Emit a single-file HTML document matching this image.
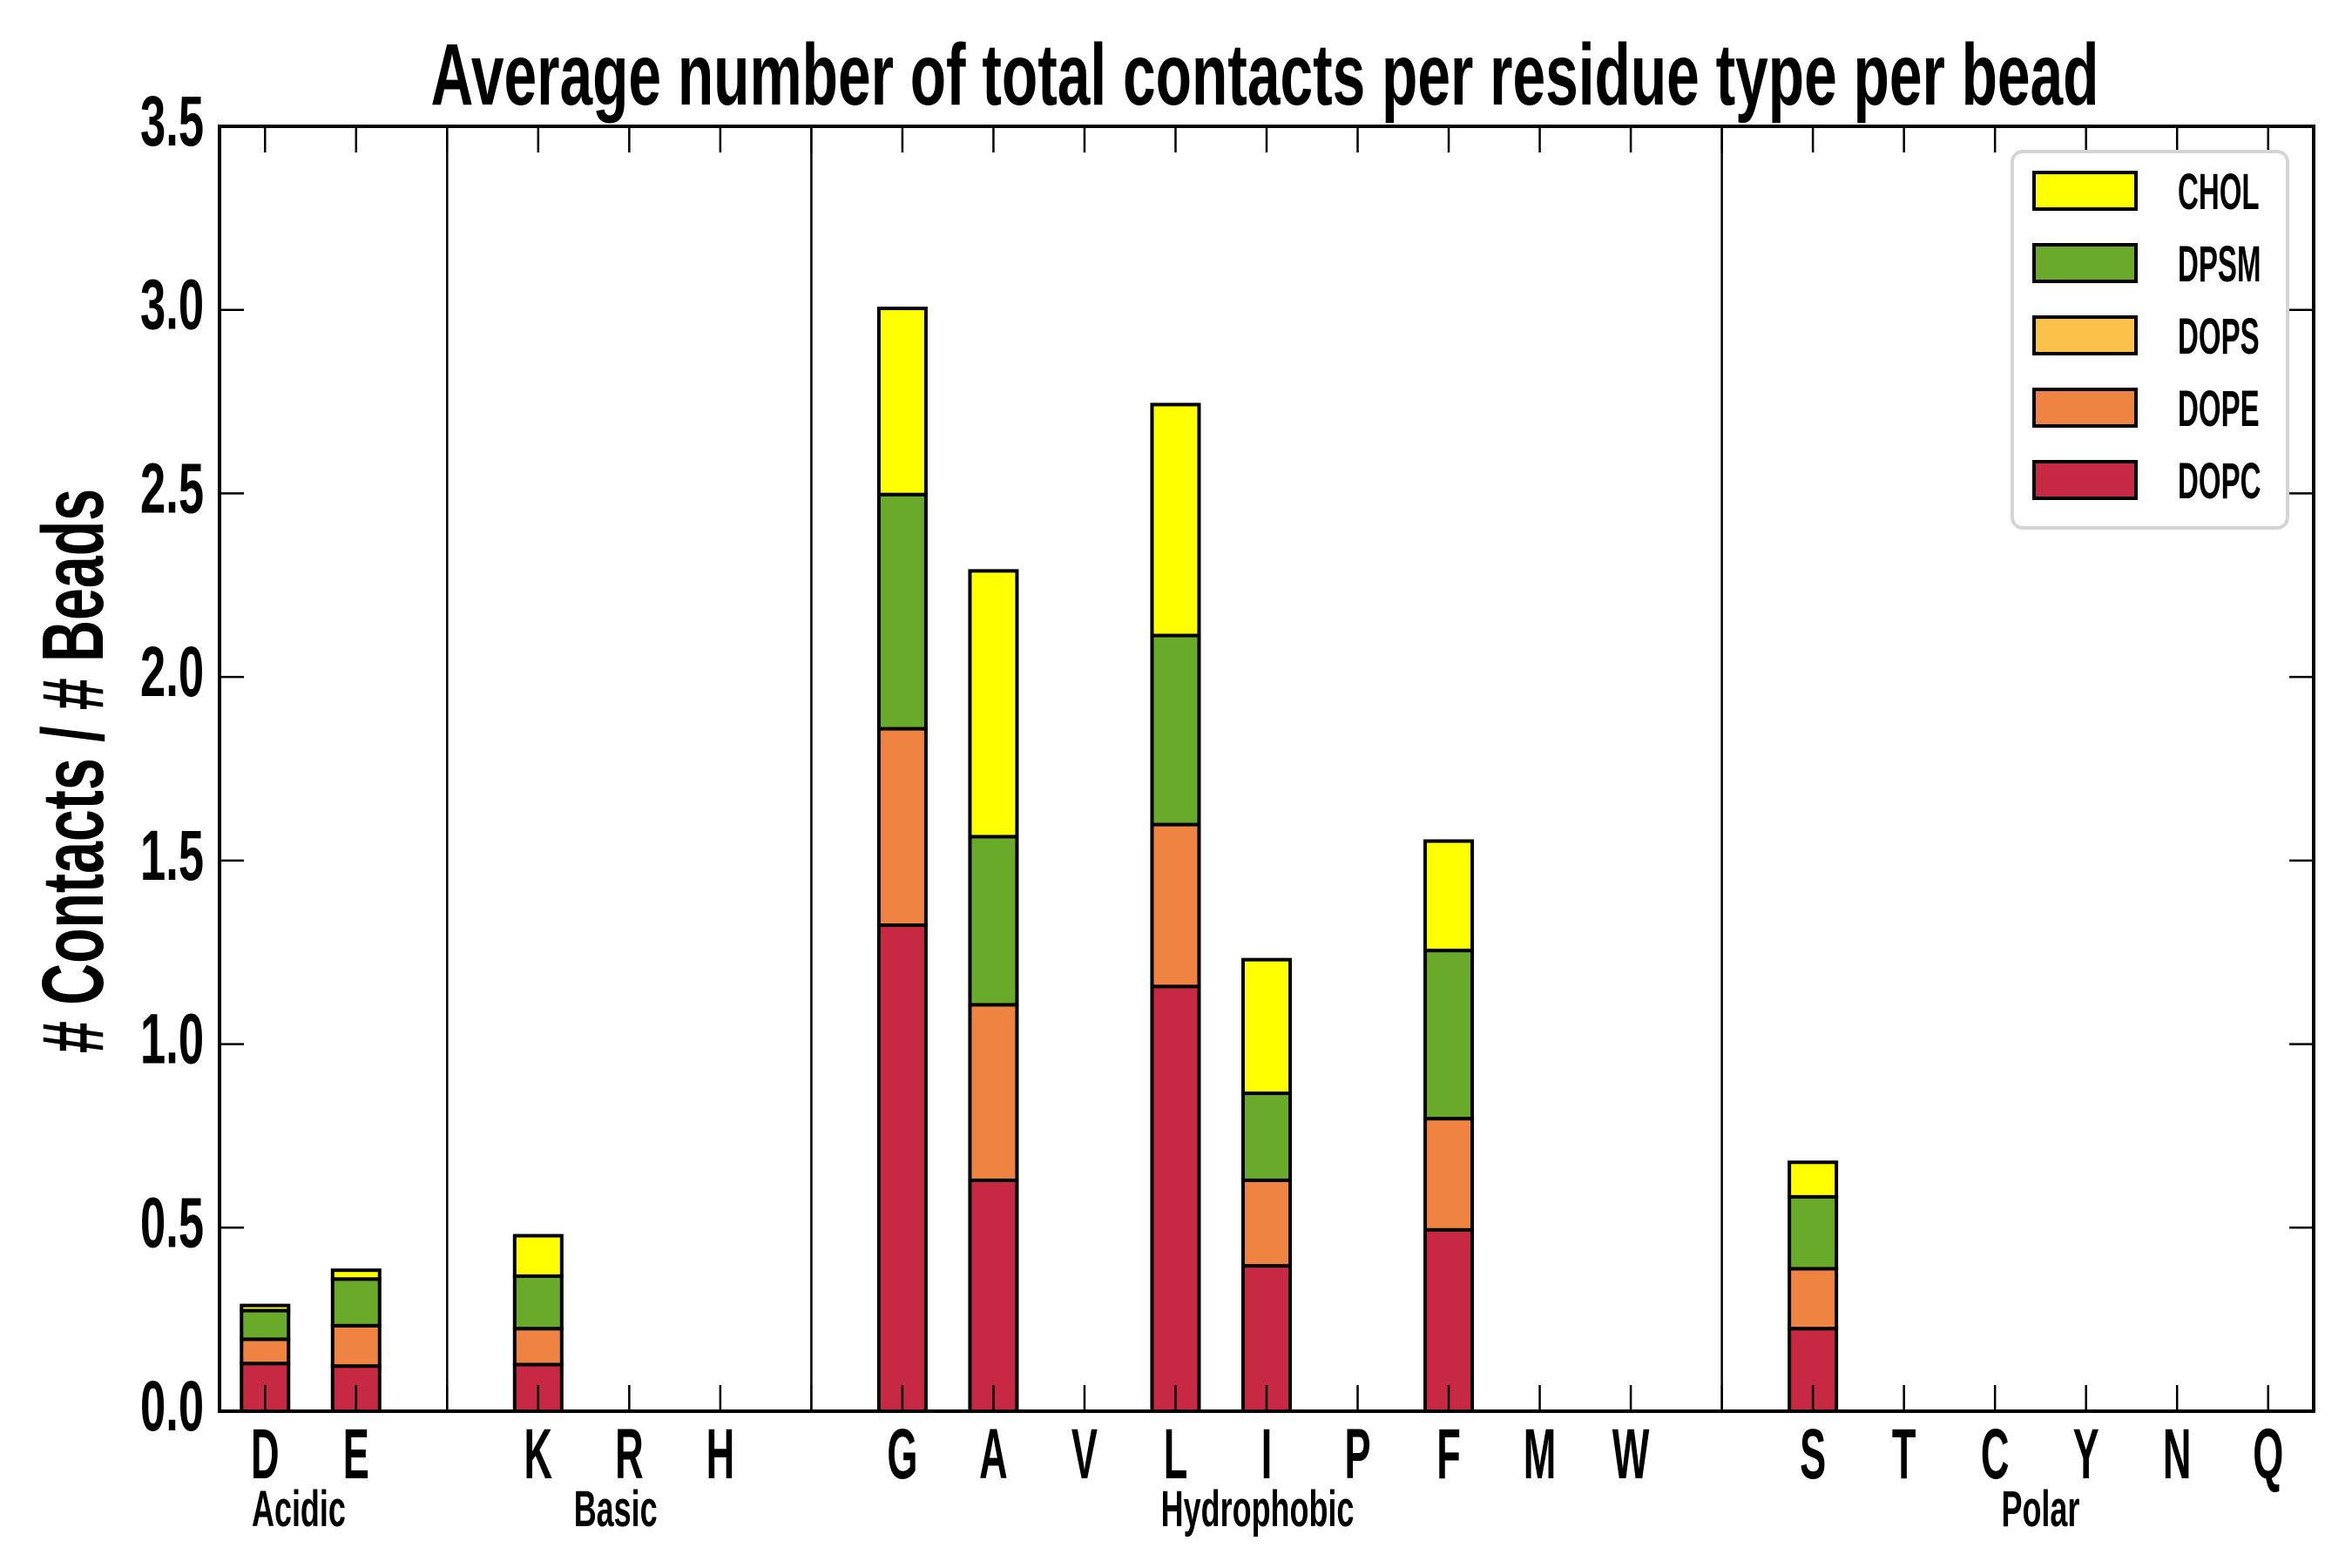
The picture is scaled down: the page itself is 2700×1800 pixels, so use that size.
<!DOCTYPE html>
<html><head><meta charset="utf-8"><style>
html,body{margin:0;padding:0;background:#fff;}
svg{display:block;}
text{font-family:"Liberation Sans",sans-serif;font-weight:bold;fill:#000;}
</style></head><body>
<svg id="chart" width="2700" height="1800" viewBox="0 0 2700 1800" xmlns="http://www.w3.org/2000/svg">
<rect width="2700" height="1800" fill="#fff"/>
<text x="1452" y="120" text-anchor="middle" font-size="100" textLength="1915" lengthAdjust="spacingAndGlyphs">Average number of total contacts per residue type per bead</text>
<text transform="translate(118,885) rotate(-90)" text-anchor="middle" font-size="100" textLength="648" lengthAdjust="spacingAndGlyphs"># Contacts / # Beads</text>
<g id="plot"></g>
<g id="legend"></g>
</svg>
<script>
const categories = ["D","E","","K","R","H","","G","A","V","L","I","P","F","M","W","","S","T","C","Y","N","Q"];
const seriesNames = ["DOPC","DOPE","DOPS","DPSM","CHOL"];
const DOPC = [0.13,0.123,0,0.127,0,0,0,1.324,0.629,0,1.157,0.396,0,0.494,0,0,0,0.225,0,0,0,0,0];
const DOPE = [0.066,0.110,0,0.098,0,0,0,0.535,0.478,0,0.441,0.233,0,0.303,0,0,0,0.163,0,0,0,0,0];
const DOPS = [0,0,0,0,0,0,0,0,0,0,0,0,0,0,0,0,0,0,0,0,0,0,0];
const DPSM = [0.078,0.127,0,0.143,0,0,0,0.638,0.458,0,0.515,0.237,0,0.458,0,0,0,0.196,0,0,0,0,0];
const CHOL = [0.014,0.024,0,0.11,0,0,0,0.507,0.724,0,0.629,0.364,0,0.298,0,0,0,0.094,0,0,0,0,0];
const yTicks = [0,0.5,1.0,1.5,2.0,2.5,3.0,3.5];
const yTickLabels = ["0.0","0.5","1.0","1.5","2.0","2.5","3.0","3.5"];
const separators = [2,6,16];
const groupLabels = ["Acidic","Basic","Hydrophobic","Polar"];
const groupPos = [0.37,3.85,10.9,19.5];

const colors = ["#c72842","#ef8442","#fcc14a","#6aaa2a","#ffff00"];
const series = [DOPC,DOPE,DOPS,DPSM,CHOL];
const L=252,R=2656,T=145,B=1620;
const xMin=-0.5,xMax=22.5,yMax=3.5;
function xs(i){return L+(i-xMin)/(xMax-xMin)*(R-L);}
function ys(v){return B-v/yMax*(B-T);}
const NS="http://www.w3.org/2000/svg";
const plot=document.getElementById('plot');
function mk(tag,attrs,parent){const e=document.createElementNS(NS,tag);for(const k in attrs)e.setAttribute(k,attrs[k]);(parent||plot).appendChild(e);return e;}
function ntext(x,y,sx,size,anchor,str,parent){
  const t=mk('text',{transform:'translate('+x+','+y+') scale('+sx+',1)','font-size':size,'text-anchor':anchor},parent);
  t.textContent=str;return t;
}

separators.forEach(s=>{
  const ln=mk('line',{x1:xs(s),x2:xs(s),y1:T,y2:B,stroke:'#000','stroke-width':2.5});
  
  
});
const bw=54;
categories.forEach((c,i)=>{
  let base=0;
  series.forEach((s,k)=>{
    const v=s[i];
    if(v>0||k===0){
      const y0=ys(base),y1=ys(base+v);
      const r=mk('rect',{x:xs(i)-bw/2,y:y1,width:bw,height:Math.max(0,y0-y1),fill:colors[k],stroke:'#000','stroke-width':4});
      
      
    }
    base+=v;
  });
});
categories.forEach((c,i)=>{
  const x=xs(i);
  const t1=mk('line',{x1:x,x2:x,y1:B,y2:B-30,stroke:'#000','stroke-width':2.5});
  
  
  const t2=mk('line',{x1:x,x2:x,y1:T,y2:T+30,stroke:'#000','stroke-width':2.5});
  
  
  if(c){
    const tx=ntext(x,1697,0.55,82,'middle',c);
    
    
  }
});
yTicks.forEach((v,j)=>{
  const y=ys(v);
  const a=mk('line',{x1:L,x2:L+28,y1:y,y2:y,stroke:'#000','stroke-width':2.5});
  
  
  const b=mk('line',{x1:R,x2:R-28,y1:y,y2:y,stroke:'#000','stroke-width':2.5});
  
  
  const tx=ntext(234,y+22,0.64,82,'end',yTickLabels[j]);
  
  
});
groupLabels.forEach((g,j)=>{
  const tx=ntext(xs(groupPos[j]),1752,0.62,58,'middle',g);
  
  
});
const fr=mk('rect',{x:L,y:T,width:R-L,height:B-T,fill:'none',stroke:'#000','stroke-width':4});



const lg=document.getElementById('legend');
const lb=mk('rect',{x:2310,y:174,width:316,height:432,rx:12,fill:'#fff',stroke:'#d4d4d4','stroke-width':4},lg);


const order=[4,3,2,1,0];
order.forEach((k,r)=>{
  const cy=219+r*83;
  const p=mk('rect',{x:2335,y:cy-21,width:117,height:42,fill:colors[k],stroke:'#000','stroke-width':4},lg);
  
  
  const t=ntext(2500,cy+21,0.57,58,'start',seriesNames[k],lg);
  
  
});
</script>
</body></html>
